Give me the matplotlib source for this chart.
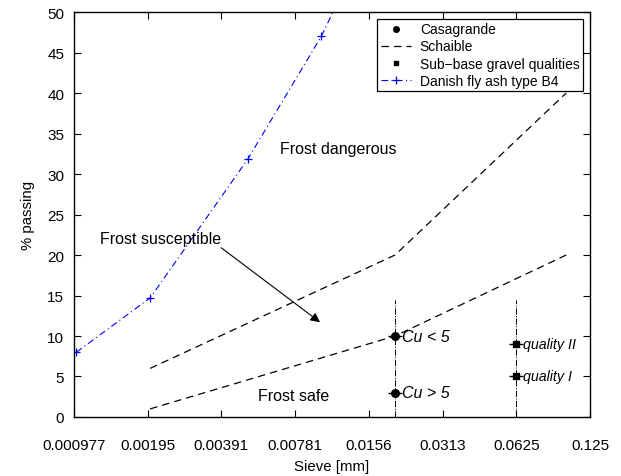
import matplotlib
matplotlib.use("Agg")
import matplotlib.pyplot as plt

plt.rcParams['font.family'] = ['Liberation Sans', 'DejaVu Sans']

# Sieve tick positions (log2 spaced) and their labels
xticks = [2**-10, 2**-9, 2**-8, 2**-7, 2**-6, 2**-5, 2**-4, 2**-3]
xticklabels = ['0.000977', '0.00195', '0.00391', '0.00781', '0.0156', '0.0313', '0.0625', '0.125']
yticks = [0, 5, 10, 15, 20, 25, 30, 35, 40, 45, 50]

# Casagrande criterion (d = 0.02 mm)
casa_x = [0.02, 0.02]
casa_y = [10, 3]
casa_labels = ['Cu < 5', 'Cu > 5']
casa_guide_y = [0, 14.5]

# Schaible limits
schaible_low_x = [0.002, 0.02, 0.1]
schaible_low_y = [1, 10, 20]
schaible_up_x = [0.002, 0.02, 0.1]
schaible_up_y = [6, 20, 40]

# Sub-base gravel qualities (d = 0.0625 mm)
gravel_x = [0.0625, 0.0625]
gravel_y = [9, 5]
gravel_labels = ['quality II', 'quality I']
gravel_guide_y = [0, 14.5]

# Danish fly ash type B4 grading
ash_x = [0.001, 0.002, 0.005, 0.01, 0.02]
ash_y = [8, 14.7, 31.8, 47, 66]

fig = plt.figure(figsize=(6.21, 4.77), dpi=100)
ax = fig.add_axes([0.119, 0.1237, 0.831, 0.849])

# guide lines
ax.plot(casa_x, casa_guide_y, color='black', ls='-.', lw=0.7)
ax.plot(gravel_x, gravel_guide_y, color='black', ls='-.', lw=0.7)

# Schaible
ax.plot(schaible_low_x, schaible_low_y, color='black', ls=(0, (6, 4)), lw=0.9, label='Schaible')
ax.plot(schaible_up_x, schaible_up_y, color='black', ls=(0, (6, 4)), lw=0.9)

# Fly ash
ax.plot(ash_x, ash_y, color='blue', ls=(0, (6, 3, 1, 3)), lw=0.8, marker='+', ms=6,
        mew=0.9, label='Danish fly ash type B4')

# Casagrande points
ax.plot(casa_x, casa_y, ls='none', marker='_', ms=10, mew=1.0, color='black')
ax.plot(casa_x, casa_y, ls='none', marker='o', ms=5.5, color='black')
# Sub-base gravel points
ax.plot(gravel_x, gravel_y, ls='none', marker='_', ms=10, mew=1.0, color='black')
ax.plot(gravel_x, gravel_y, ls='none', marker='s', ms=5, color='black')

# legend proxies
h_casa, = ax.plot([], [], ls='none', marker='.', ms=8, color='black', label='Casagrande')
h_grav, = ax.plot([], [], ls='none', marker='s', ms=3.5, color='black', label='Sub\u2212base gravel qualities')
handles, labels = ax.get_legend_handles_labels()
order = ['Casagrande', 'Schaible', 'Sub\u2212base gravel qualities', 'Danish fly ash type B4']
hmap = dict(zip(labels, handles))
leg = ax.legend([hmap[k] for k in order], order, loc='upper right', fontsize=10,
                frameon=True, fancybox=False, edgecolor='black', framealpha=1,
                borderpad=0.25, labelspacing=0.22, handlelength=2.2, handletextpad=0.6,
                borderaxespad=0.5)
leg.get_frame().set_linewidth(0.9)

# annotations
for xv, yv, t in zip(casa_x, casa_y, casa_labels):
    ax.text(xv * 1.07, yv, t, fontsize=11.5, style='italic', ha='left', va='center')
for xv, yv, t in zip(gravel_x, gravel_y, gravel_labels):
    ax.text(xv * 1.065, yv, t, fontsize=10.3, style='italic', ha='left', va='center')
ax.text(0.0068, 33.2, 'Frost dangerous', fontsize=11.5, ha='left', va='center')
ax.text(0.00552, 2.6, 'Frost safe', fontsize=11.5, ha='left', va='center')
ax.text(0.00125, 22.0, 'Frost susceptible', fontsize=11.5, ha='left', va='center')
ax.annotate('', xy=(0.00988, 11.7), xytext=(0.0039, 20.9),
            arrowprops=dict(arrowstyle='-|>', color='black', lw=0.8,
                            mutation_scale=14, shrinkA=0, shrinkB=0))

ax.set_xscale('log', base=2)
ax.set_xlim(2**-10, 2**-3)
ax.set_ylim(0, 50)
ax.set_xticks(xticks)
ax.set_xticklabels(xticklabels)
ax.set_yticks(yticks)
ax.minorticks_off()
ax.tick_params(direction='in', length=5, width=0.8, top=True, right=True,
               labelsize=11)
ax.tick_params(axis='x', pad=15)
ax.tick_params(axis='y', pad=7)
for s in ax.spines.values():
    s.set_linewidth(1.0)
ax.set_xlabel('Sieve [mm]', fontsize=10.8, labelpad=5)
ax.set_ylabel('% passing', fontsize=10.8, labelpad=9)

fig.savefig('out.png', dpi=100)
